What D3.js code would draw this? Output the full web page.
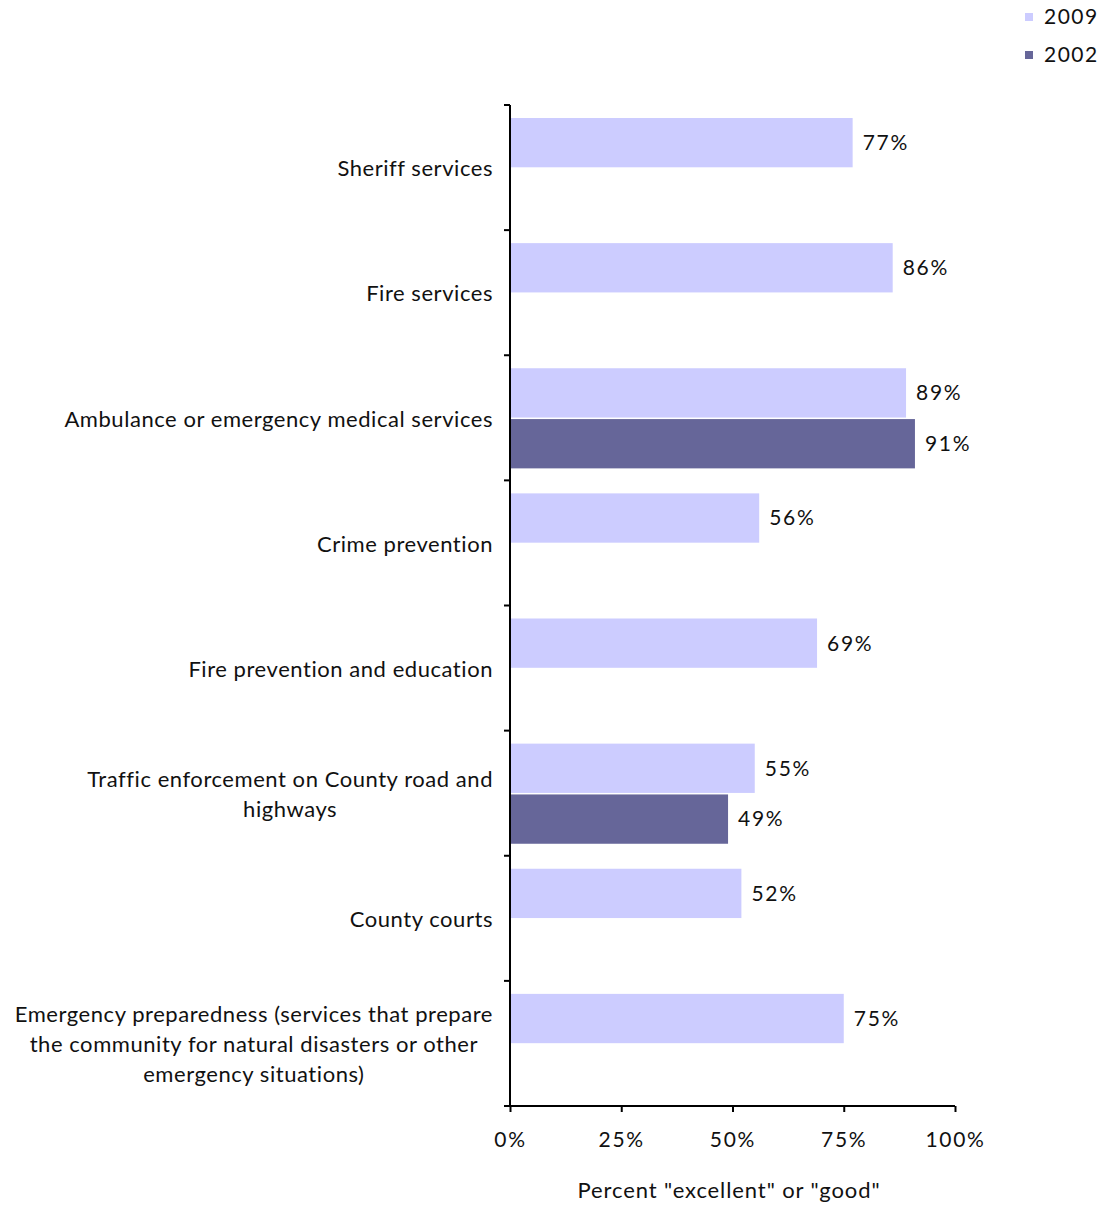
<!DOCTYPE html>
<html>
<head>
<meta charset="utf-8">
<script src="https://cdn.jsdelivr.net/npm/d3@7"></script>
<style>
  html, body { margin: 0; padding: 0; background: #fff; }
  svg { display: block; font-family: "Lato", "Open Sans", sans-serif; }
</style>
</head>
<body>
<svg id="chart" width="1101" height="1205"></svg>
<script>
// Service categories (label lines as shown on the axis)
const categories = [
  ["Sheriff services"],
  ["Fire services"],
  ["Ambulance or emergency medical services"],
  ["Crime prevention"],
  ["Fire prevention and education"],
  ["Traffic enforcement on County road and", "highways"],
  ["County courts"],
  ["Emergency preparedness (services that prepare", "the community for natural disasters or other", "emergency situations)"]
];
const seriesNames = ["2009", "2002"];
const values2009 = [77, 86, 89, 56, 69, 55, 52, 75];
const values2002 = [null, null, 91, null, null, 49, null, null];
const xTicks = [0, 25, 50, 75, 100];
const colors = { "2009": "#ccccff", "2002": "#666699" };

const svg = d3.select("#chart");
const plotLeft = 510, plotRight = 955, plotTop = 105, plotBottom = 1106;

const keys = categories.map((c, i) => i);
const y = d3.scaleBand().domain(keys).range([plotTop, plotBottom]).padding(0);
const ySub = d3.scaleBand().domain(seriesNames).range([13, y.bandwidth() - 12]).paddingInner(0.03);
const x = d3.scaleLinear().domain([0, 100]).range([plotLeft, plotRight]);

const rows = [];
keys.forEach(i => {
  rows.push({ i, s: "2009", v: values2009[i] });
  if (values2002[i] != null) rows.push({ i, s: "2002", v: values2002[i] });
});

// Bars
svg.append("g").selectAll("rect").data(rows).join("rect")
  .attr("x", x(0))
  .attr("y", d => y(d.i) + ySub(d.s))
  .attr("width", d => x(d.v) - x(0))
  .attr("height", ySub.bandwidth())
  .attr("fill", d => colors[d.s]);

// Value labels
svg.append("g").selectAll("text").data(rows).join("text")
  .attr("x", d => x(d.v) + 10)
  .attr("y", d => y(d.i) + ySub(d.s) + ySub.bandwidth() / 2)
  .attr("dy", "0.35em")
  .attr("font-size", 21)
  .attr("letter-spacing", 1.7)
  .attr("fill", "#111")
  .text(d => d.v + "%");

// Category axis line and ticks
const yAxisG = svg.append("g");
yAxisG.append("line")
  .attr("x1", plotLeft).attr("x2", plotLeft).attr("y1", plotTop).attr("y2", plotBottom)
  .attr("stroke", "#000").attr("stroke-width", 2);
const bounds = keys.map(k => y(k)).concat([plotBottom]);
yAxisG.selectAll("line.tick").data(bounds).join("line")
  .attr("class", "tick")
  .attr("x1", plotLeft - 6).attr("x2", plotLeft)
  .attr("y1", d => d).attr("y2", d => d)
  .attr("stroke", "#000").attr("stroke-width", 2);

// Category labels
const lineH = 30;
const labelG = svg.append("g");
keys.forEach(i => {
  const lines = categories[i];
  const cy = y(i) + y.bandwidth() / 2 + 1;
  const t = labelG.append("text")
    .attr("font-size", 22)
    .attr("letter-spacing", 0.55)
    .attr("fill", "#111")
    .attr("text-anchor", lines.length > 1 ? "middle" : "end");
  lines.forEach((ln, j) => {
    t.append("tspan")
      .attr("y", cy + (j - (lines.length - 1) / 2) * lineH)
      .attr("dy", "0.35em")
      .text(ln);
  });
  if (lines.length > 1) {
    // center multi-line blocks under their widest line, right-aligned to the axis
    const widths = [];
    t.selectAll("tspan").each(function () { widths.push(this.getComputedTextLength()); });
    const w = d3.max(widths);
    t.selectAll("tspan").attr("x", 493 - w / 2);
  } else {
    t.selectAll("tspan").attr("x", 493);
  }
});

// Value axis
const xAxis = d3.axisBottom(x).tickValues(xTicks).tickFormat(d => d + "%").tickSize(6).tickSizeOuter(0);
const xg = svg.append("g").attr("transform", `translate(0,${plotBottom})`).call(xAxis);
xg.select(".domain").attr("stroke-width", 2).attr("d", `M${plotLeft - 6},0H${plotRight}`);
xg.selectAll(".tick line").attr("stroke-width", 2);
xg.selectAll(".tick text")
  .attr("font-size", 21).attr("font-family", "Lato, 'Open Sans', sans-serif")
  .attr("letter-spacing", 1.7).attr("fill", "#111").attr("y", 26);

svg.append("text")
  .attr("x", 729).attr("y", 1198)
  .attr("text-anchor", "middle")
  .attr("font-size", 22).attr("letter-spacing", 0.9).attr("fill", "#111")
  .text('Percent "excellent" or "good"');

// Legend
const legend = svg.append("g");
seriesNames.forEach((s, j) => {
  const ly = 17 + j * 38;
  legend.append("rect").attr("x", 1025).attr("y", ly - 4).attr("width", 8).attr("height", 8).attr("fill", colors[s]);
  legend.append("text").attr("x", 1044).attr("y", ly).attr("dy", "0.35em")
    .attr("font-size", 21).attr("fill", "#111").attr("letter-spacing", 1.5).text(s);
});
</script>
</body>
</html>
